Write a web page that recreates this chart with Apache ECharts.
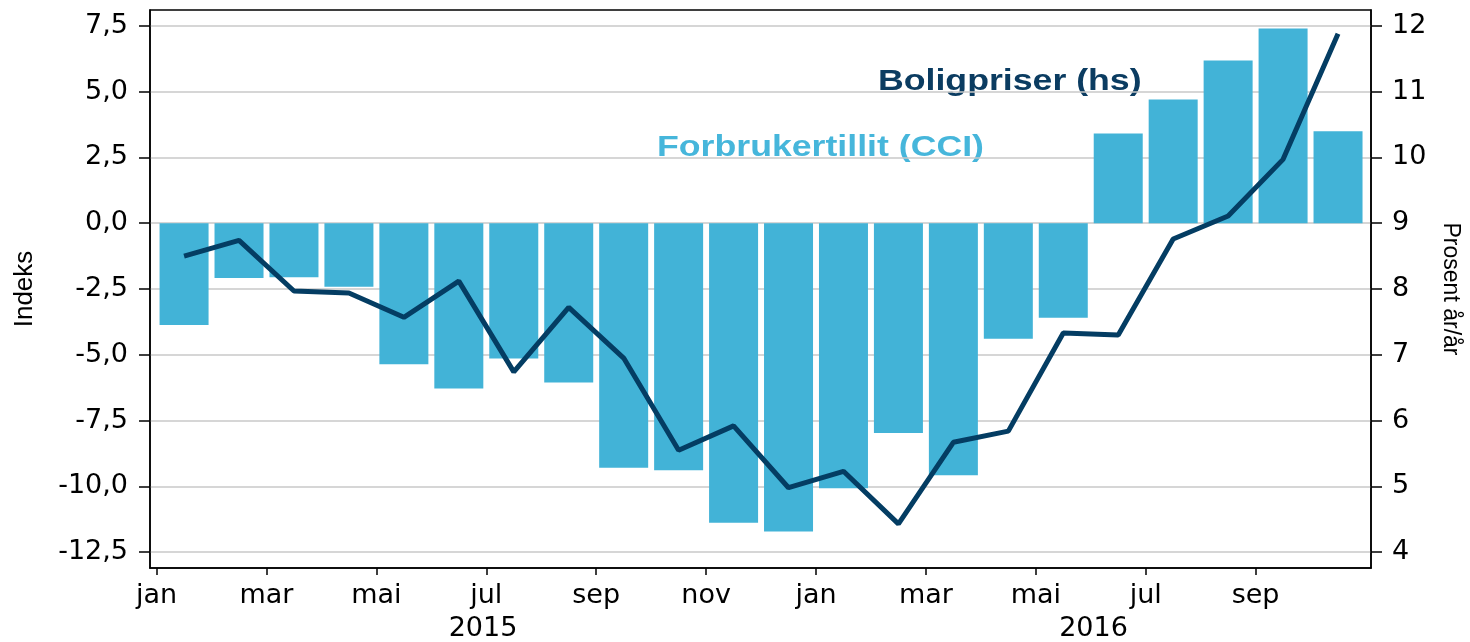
<!DOCTYPE html>
<html>
<head>
<meta charset="utf-8">
<title>Forbrukertillit og boligpriser</title>
<script src="https://cdn.jsdelivr.net/npm/echarts@6.0.0/dist/echarts.min.js"></script>
<style>
	html, body { margin: 0; padding: 0; background: #fff; }
	#chart { width: 1470px; height: 642px; }
</style>
</head>
<body>
<div id="chart"></div>
<script>
/*
 * Data, jan 2015 - okt 2016 (en verdi per maned)
 */
var maaneder = ["2015-01","2015-02","2015-03","2015-04","2015-05","2015-06","2015-07","2015-08","2015-09","2015-10","2015-11","2015-12",
	"2016-01","2016-02","2016-03","2016-04","2016-05","2016-06","2016-07","2016-08","2016-09","2016-10"];

// Forbrukertillit (CCI), venstre akse
var cci = [-3.87, -2.08, -2.05, -2.41, -5.36, -6.28, -5.14, -6.05, -9.29, -9.39, -11.38, -11.71,
	-10.07, -7.97, -9.58, -4.39, -3.59, 3.41, 4.70, 6.18, 7.40, 3.49];

// Boligpriser, prosent ar/ar, hoyre akse
var boligpriser = [8.50, 8.74, 7.97, 7.94, 7.57, 8.12, 6.74, 7.72, 6.95, 5.55, 5.92, 4.98,
	5.23, 4.43, 5.67, 5.84, 7.33, 7.30, 8.76, 9.11, 9.97, 11.88];

// tick labels
var xTickMonths = [0, 2, 4, 6, 8, 10, 12, 14, 16, 18, 20];
var xTickLabels = ["jan", "mar", "mai", "jul", "sep", "nov", "jan", "mar", "mai", "jul", "sep"];
var yearLabels = ["2015", "2016"];
var leftTicks = [-12.5, -10, -7.5, -5, -2.5, 0, 2.5, 5, 7.5];
var rightTicks = [4, 5, 6, 7, 8, 9, 10, 11, 12];

var xMin = -0.12, xMax = 22.1;
var yearPos = [(xMin + 12) / 2, (12 + xMax) / 2];

var BAR_COLOR = "#42B3D7";
var LINE_COLOR = "#043D63";
var TICK_FONT = "DejaVu Sans";
var TICK_SIZE = 27;

function toPairs(paValues){
	return paValues.map(function(v, i){
		return [i + 0.5, v];
	});
}

function fmtComma(v){
	return v.toFixed(1).replace(".", ",");
}

var moOptions = {
	animation : false,
	backgroundColor : "#fff",
	grid : {
		left : 150,
		right : 98,
		top : 10,
		bottom : 73,
		show : true,
		borderColor : "#000",
		borderWidth : 1.5
	},
	graphic : [{
		type : "text",
		x : 878,
		y : 82,
		scaleX : 1.23,
		style : {
			text : "Boligpriser (hs)",
			font : "bold 29px 'Liberation Sans', Arial, sans-serif",
			fill : "#0B3C61",
			verticalAlign : "middle"
		}
	},{
		type : "text",
		x : 657,
		y : 148,
		scaleX : 1.23,
		style : {
			text : "Forbrukertillit (CCI)",
			font : "bold 29px 'Liberation Sans', Arial, sans-serif",
			fill : "#46B6DB",
			verticalAlign : "middle"
		}
	}],
	xAxis : [{
		type : "value",
		min : xMin,
		max : xMax,
		position : "bottom",
		axisLine : { show : true, onZero : false, lineStyle : { color : "#000", width : 1.5 } },
		axisTick : { show : true, inside : false, length : 7, customValues : xTickMonths, lineStyle : { color : "#000", width : 1.5 } },
		axisLabel : {
			customValues : xTickMonths,
			margin : 14,
			fontFamily : TICK_FONT,
			fontSize : TICK_SIZE,
			color : "#000",
			formatter : function(v){
				return xTickLabels[xTickMonths.indexOf(Math.round(v))];
			}
		},
		splitLine : { show : false }
	},{
		type : "value",
		min : xMin,
		max : xMax,
		position : "bottom",
		axisLine : { show : false },
		axisTick : { show : false },
		axisLabel : {
			customValues : yearPos,
			margin : 47,
			fontFamily : TICK_FONT,
			fontSize : TICK_SIZE,
			color : "#000",
			formatter : function(v){
				return v < 12 ? yearLabels[0] : yearLabels[1];
			}
		},
		splitLine : { show : false }
	}],
	yAxis : [{
		type : "value",
		min : -13.1,
		max : 8.1,
		position : "left",
		name : "Indeks",
		nameLocation : "middle",
		nameGap : 112,
		nameTextStyle : { fontFamily : "'Liberation Sans', Arial", fontSize : 26, color : "#000" },
		axisLine : { show : true, onZero : false, lineStyle : { color : "#000", width : 1.5 } },
		axisTick : { show : true, inside : false, length : 11, customValues : leftTicks, lineStyle : { color : "#000", width : 1.5 } },
		axisLabel : {
			customValues : leftTicks,
			margin : 22,
			fontFamily : TICK_FONT,
			fontSize : TICK_SIZE,
			color : "#000",
			formatter : fmtComma
		},
		splitLine : { show : true, lineStyle : { color : "#c9c9c9", width : 1.5 } }
	},{
		type : "value",
		min : 3.76,
		max : 12.24,
		position : "right",
		name : "Prosent år/år",
		nameLocation : "middle",
		nameRotate : -90,
		nameGap : 68,
		nameTextStyle : { fontFamily : "'Liberation Sans', Arial", fontSize : 23, color : "#000" },
		axisLine : { show : true, onZero : false, lineStyle : { color : "#000", width : 1.5 } },
		axisTick : { show : true, inside : false, length : 11, customValues : rightTicks, lineStyle : { color : "#000", width : 1.5 } },
		axisLabel : {
			customValues : rightTicks,
			margin : 21,
			fontFamily : TICK_FONT,
			fontSize : TICK_SIZE,
			color : "#000"
		},
		splitLine : { show : false }
	}],
	series : [{
		name : "Forbrukertillit (CCI)",
		type : "bar",
		xAxisIndex : 0,
		yAxisIndex : 0,
		barWidth : 49,
		itemStyle : { color : BAR_COLOR },
		data : toPairs(cci)
	},{
		name : "Boligpriser (hs)",
		type : "line",
		xAxisIndex : 0,
		yAxisIndex : 1,
		symbol : "none",
		lineStyle : { color : LINE_COLOR, width : 5 },
		data : toPairs(boligpriser)
	}]
};

function drawChart(){
	var voChart = echarts.init(document.getElementById("chart"));
	voChart.setOption(moOptions);
	return voChart;
}

drawChart();
</script>
</body>
</html>
